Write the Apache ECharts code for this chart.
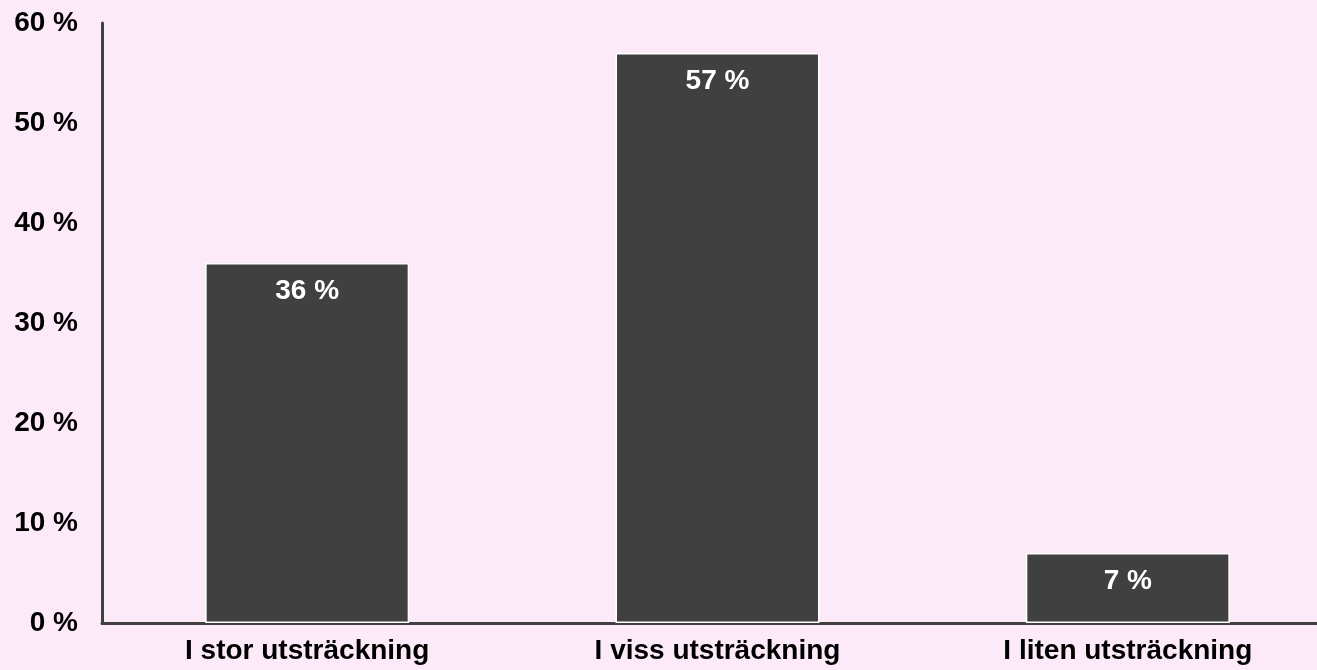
<!DOCTYPE html>
<html>
<head>
<meta charset="utf-8">
<script src="https://cdn.jsdelivr.net/npm/echarts@6/dist/echarts.min.js"></script>
<style>
  html, body { margin: 0; padding: 0; background: #fdeaf8; }
  #chart { width: 1317px; height: 670px; }
</style>
</head>
<body>
<div id="chart"></div>
<script>
// kategorier och andelar (procent)
const categories = ["I stor utsträckning", "I viss utsträckning", "I liten utsträckning"];
const values = [36, 57, 7];

const chart = echarts.init(document.getElementById("chart"));

chart.setOption({
  backgroundColor: "#fdeaf8",
  animation: false,
  // grid går lite utanför högerkanten så att x-axeln når kanten
  grid: { left: 102, right: -16, top: 23, bottom: 47, outerBoundsMode: "none" },
  xAxis: {
    type: "category",
    data: categories,
    axisLine: { lineStyle: { color: "#404040", width: 3 } },
    axisTick: { show: false },
    axisLabel: {
      color: "#000",
      fontFamily: "Liberation Sans, Arial, sans-serif",
      fontWeight: "bold",
      fontSize: 28,
      margin: 14
    }
  },
  yAxis: {
    type: "value",
    min: 0,
    max: 60,
    interval: 10,
    axisLine: { show: true, lineStyle: { color: "#404040", width: 3 } },
    axisTick: { show: false },
    splitLine: { show: false },
    axisLabel: {
      formatter: "{value} %",
      color: "#000",
      fontFamily: "Liberation Sans, Arial, sans-serif",
      fontWeight: "bold",
      fontSize: 28,
      margin: 24
    }
  },
  series: [
    {
      type: "bar",
      data: values,
      barWidth: 204,
      itemStyle: { color: "#404040", borderColor: "#fff", borderWidth: 1.5 },
      label: {
        show: true,
        position: "insideTop",
        distance: 14,
        formatter: "{c} %",
        color: "#fff",
        fontFamily: "Liberation Sans, Arial, sans-serif",
        fontWeight: "bold",
        fontSize: 28
      }
    }
  ]
});
</script>
</body>
</html>
